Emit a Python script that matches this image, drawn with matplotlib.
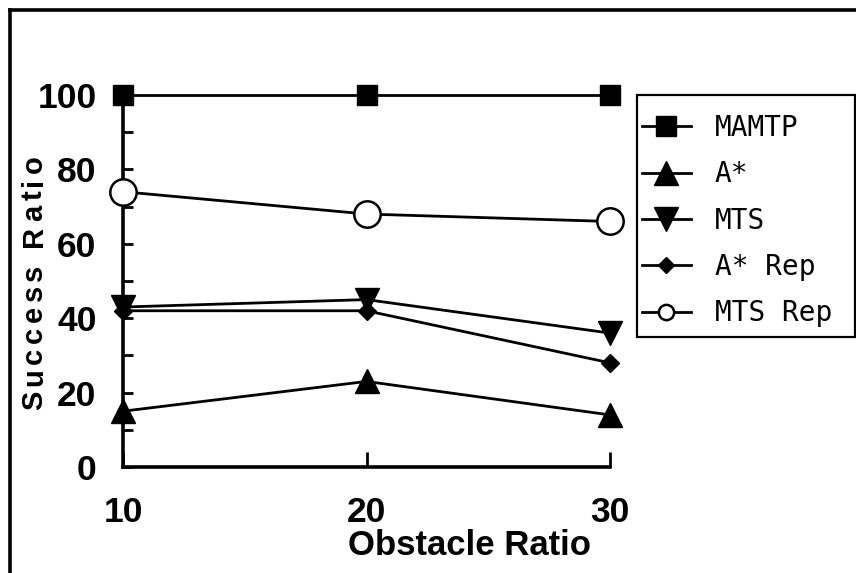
import matplotlib
matplotlib.use("Agg")
import matplotlib.pyplot as plt
from matplotlib.lines import Line2D
from matplotlib.patches import Rectangle
from matplotlib.font_manager import FontProperties

# data
obstacle_ratio = [10, 20, 30]
mamtp = [100, 100, 100]
a_star = [15, 23, 14]
mts = [43, 45, 36]
a_star_rep = [42, 42, 28]
mts_rep = [74, 68, 66]

labels = ["MAMTP", "A*", "MTS", "A* Rep", "MTS Rep"]

W, H = 856, 573
fig = plt.figure(figsize=(W / 100, H / 100), dpi=100)
ax = fig.add_axes([123 / W, 1 - 467 / H, (610 - 123) / W, (467 - 95) / H])

lw = 2.0
ax.plot(obstacle_ratio, mamtp, color="black", lw=lw, marker="s", ms=14.5,
        clip_on=False, zorder=5, label=labels[0])
ax.plot(obstacle_ratio, a_star, color="black", lw=lw, marker="^", ms=17,
        clip_on=False, zorder=5, label=labels[1])
ax.plot(obstacle_ratio, mts, color="black", lw=lw, marker="v", ms=17,
        clip_on=False, zorder=5, label=labels[2])
ax.plot(obstacle_ratio, a_star_rep, color="black", lw=lw, marker="D", ms=9,
        clip_on=False, zorder=5, label=labels[3])
ax.plot(obstacle_ratio, mts_rep, color="black", lw=lw, marker="o", ms=19,
        mfc="white", mec="black", mew=1.8, clip_on=False, zorder=5, label=labels[4])

ax.set_xlim(10, 30)
ax.set_ylim(0, 100)
ax.set_xticks([10, 20, 30])
ax.set_yticks([0, 20, 40, 60, 80, 100])
ax.set_yticks([10, 30, 50, 70, 90], minor=True)

for s in ["top", "right"]:
    ax.spines[s].set_visible(False)
for s in ["left", "bottom"]:
    ax.spines[s].set_linewidth(2.6)

ax.tick_params(axis="y", which="both", direction="in", length=7, width=2, pad=19)
ax.tick_params(axis="x", direction="in", length=11, width=2, pad=21)
for lab in ax.get_xticklabels() + ax.get_yticklabels():
    lab.set_fontsize(25.5)
    lab.set_fontfamily(["Liberation Sans Narrow", "Liberation Sans"])
    lab.set_fontweight("bold")


def spaced_vertical(text, x_px, y_px, size, gap_px):
    # rotated label drawn letter by letter, to get the wide tracking of the original
    prop = FontProperties(family="Liberation Sans", weight="bold", size=size)
    r = fig.canvas.get_renderer()
    base = r.get_text_width_height_descent("xx", prop, ismath=False)[0]
    y = y_px
    for c in text:
        fig.text(x_px / W, 1 - y / H, c, rotation=90, rotation_mode="anchor",
                 ha="left", va="baseline", fontproperties=prop)
        adv = r.get_text_width_height_descent("x" + c + "x", prop, ismath=False)[0] - base
        y -= adv + gap_px


spaced_vertical("Success Ratio", 42, 410, 21, 4.6)
fig.text(470 / W, 1 - 545.5 / H, "Obstacle Ratio", ha="center", va="center",
         fontsize=25, fontweight="bold", family=["Liberation Sans"])

# legend without frame, box drawn separately
leg = ax.legend(loc="upper left", bbox_to_anchor=(642 / W, 1 - 114 / H),
                bbox_transform=fig.transFigure, frameon=False, borderpad=0,
                borderaxespad=0, handlelength=1.76, handletextpad=0.86,
                labelspacing=0.66, prop=dict(family="DejaVu Sans Mono", size=20))
leg.legend_handles[4].set_markersize(11)
leg.legend_handles[3].set_markersize(8)

fig.patches.append(Rectangle((637 / W, 1 - 337 / H), (855 - 637) / W, (337 - 95) / H,
                             transform=fig.transFigure, fill=False, ec="black", lw=1.6))

# frame lines at top and left of the picture
fig.lines.append(Line2D([10 / W, 1], [1 - 10 / H, 1 - 10 / H], transform=fig.transFigure,
                        color="black", lw=2.6))
fig.lines.append(Line2D([10 / W, 10 / W], [0, 1 - 10 / H], transform=fig.transFigure,
                        color="black", lw=2.6))

fig.savefig("out.png", dpi=100)
